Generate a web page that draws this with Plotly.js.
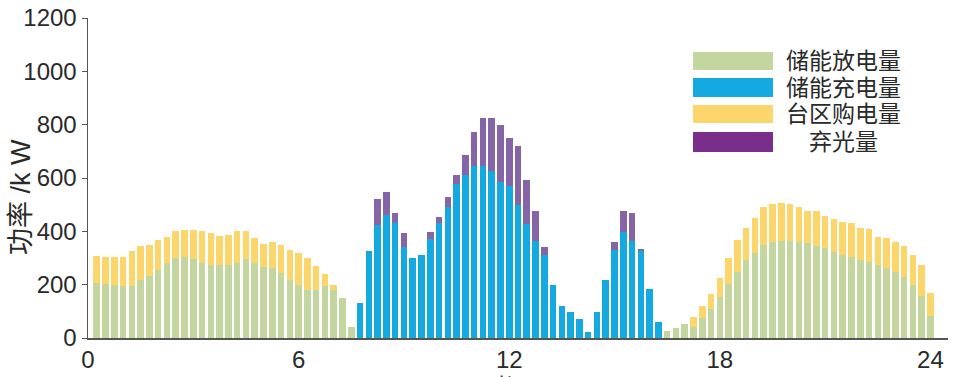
<!DOCTYPE html>
<html>
<head>
<meta charset="utf-8">
<script src="https://cdn.plot.ly/plotly-3.0.1.min.js"></script>
<style>html,body{margin:0;padding:0;background:#fff;}#chart{width:958px;height:377px;}</style>
</head>
<body>
<div id="chart"></div>
<script>
// 96 quarter-hour periods
const periods = Array.from({length: 96}, (_, i) => (i + 1) * 0.25);

const seriesNames = ['储能放电量', '储能充电量', '台区购电量', '弃光量'];

// 储能放电量 (storage discharge)
const discharge = [
  206,203,200,194,196,216,231,256,281,300,304,296,281,275,275,275,281,296,281,266,262,244,219,200,181,179,194,181,150,40,
  0,0,0,0,0,0,0,0,0,0,0,0,0,0,0,0,0,0,0,0,0,0,0,0,0,0,0,0,0,0,0,0,0,0,0,
  26,39,52,40,74,107,155,202,249,292,317,349,361,364,364,361,355,345,336,324,311,305,292,286,274,261,249,227,199,157,82
];
// 储能充电量 (storage charge)
const charge = [
  0,0,0,0,0,0,0,0,0,0,0,0,0,0,0,0,0,0,0,0,0,0,0,0,0,0,0,0,0,0,
  130,326,424,461,430,340,301,311,371,430,490,578,611,645,645,626,586,571,499,428,365,311,198,120,96,71,24,96,217,330,399,364,327,182,61,
  0,0,0,0,0,0,0,0,0,0,0,0,0,0,0,0,0,0,0,0,0,0,0,0,0,0,0,0,0,0,0
];
// 台区购电量 (grid purchase)
const purchase = [
  103,101,102,110,129,128,119,110,98,100,100,109,119,119,109,112,119,106,94,88,97,106,110,119,119,92,46,19,0,0,
  0,0,0,0,0,0,0,0,0,0,0,0,0,0,0,0,0,0,0,0,0,0,0,0,0,0,0,0,0,0,0,0,0,0,0,
  0,0,0,40,46,58,69,99,118,119,132,143,140,141,137,131,122,132,121,121,125,127,119,121,106,113,112,118,112,117,85
];
// 弃光量 (PV curtailment)
const curtail = [
  0,0,0,0,0,0,0,0,0,0,0,0,0,0,0,0,0,0,0,0,0,0,0,0,0,0,0,0,0,0,
  0,0,97,87,40,55,0,0,25,24,40,32,75,129,181,200,211,180,222,164,112,31,0,0,0,0,0,0,0,30,77,103,5,0,0,
  0,0,0,0,0,0,0,0,0,0,0,0,0,0,0,0,0,0,0,0,0,0,0,0,0,0,0,0,0,0,0
];

const xTicks = [0, 6, 12, 18, 24];
const yTicks = [0, 200, 400, 600, 800, 1000, 1200];

const barColors = ['#c4d6a0', '#14a9e0', '#fdd66b', '#8565a5'];
const legendColors = ['#c4d6a0', '#14a9e0', '#fdd66b', '#7a2e8c'];
const values = [discharge, charge, purchase, curtail];

const traces = values.map((v, i) => ({
  type: 'bar', x: periods, y: v, name: seriesNames[i],
  marker: {color: barColors[i], line: {width: 0}},
  showlegend: false, hoverinfo: 'x+y+name'
}));

const tickFont = {family: 'Liberation Sans, Arial, sans-serif', size: 24, color: '#2a2a2a'};
const cjk = 'Liberation Sans, Noto Sans CJK SC, sans-serif';

const shapes = [];
const annotations = [];
const rowTop = [0.894, 0.8125, 0.728, 0.644];
const rowBot = [0.8375, 0.753, 0.672, 0.581];
seriesNames.forEach((n, i) => {
  shapes.push({type: 'rect', xref: 'paper', yref: 'paper', x0: 0.7035, x1: 0.7965,
    y0: rowBot[i], y1: rowTop[i], fillcolor: legendColors[i], line: {width: 0}});
  annotations.push({xref: 'paper', yref: 'paper', x: 0.879, y: (rowTop[i] + rowBot[i]) / 2,
    xanchor: 'center', yanchor: 'middle', text: n, showarrow: false,
    font: {family: cjk, size: 23, color: '#2a2a2a'}});
});
annotations.push({xref: 'paper', yref: 'paper', x: -0.078, y: 0.44, textangle: -90,
  xanchor: 'center', yanchor: 'middle', text: '功率 /k W', showarrow: false,
  font: {family: cjk, size: 27, color: '#2a2a2a'}});
annotations.push({xref: 'paper', yref: 'paper', x: 0.497, y: -0.106,
  xanchor: 'center', yanchor: 'top', text: '时间/h', showarrow: false,
  font: {family: cjk, size: 22, color: '#2a2a2a'}});

const layout = {
  width: 958, height: 377,
  margin: {l: 88, r: 10, t: 18, b: 39, pad: 0},
  paper_bgcolor: '#fff', plot_bgcolor: '#fff',
  barmode: 'stack', bargap: 0.25,
  showlegend: false,
  xaxis: {range: [0, 24.5], tickvals: xTicks, ticktext: xTicks.map(String),
    showgrid: false, zeroline: false, showline: true, linecolor: '#555', linewidth: 1.5,
    ticks: '', tickfont: tickFont, automargin: false},
  yaxis: {range: [0, 1200], tickvals: yTicks, ticktext: yTicks.map(String),
    showgrid: false, zeroline: false, showline: true, linecolor: '#555', linewidth: 1.5,
    ticks: 'outside', ticklen: 5, tickcolor: '#555', tickfont: tickFont, automargin: false},
  shapes: shapes, annotations: annotations
};

Plotly.newPlot('chart', traces, layout, {displayModeBar: false, staticPlot: true});
</script>
</body>
</html>
